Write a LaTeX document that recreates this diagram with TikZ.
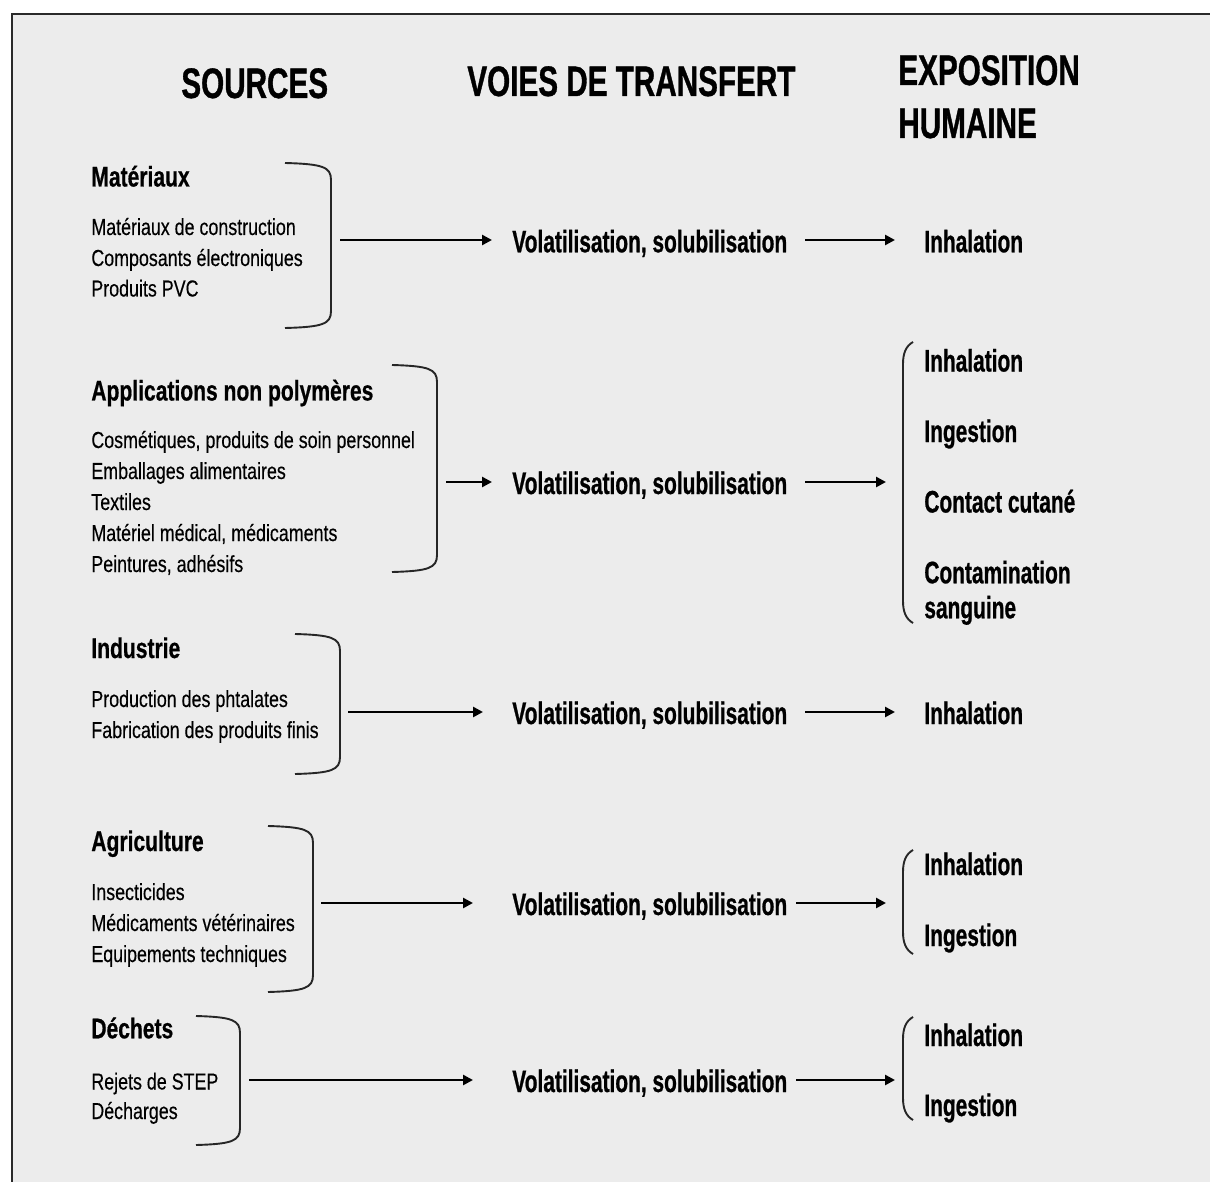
\documentclass[tikz,border=0pt]{standalone}
\usepackage{fontspec}
\setmainfont{Liberation Sans}
\newfontfamily\hdf{Liberation Sans}[FakeStretch=0.695,FakeBold=0.8]
\newfontfamily\midf{Liberation Sans}[FakeStretch=0.672,FakeBold=0.7]
\newfontfamily\secf{Liberation Sans}[FakeStretch=0.74,FakeBold=0.6]
\newfontfamily\regf{Liberation Sans}[FakeStretch=0.77,FakeBold=0.35]
\usetikzlibrary{arrows.meta}
\definecolor{bgc}{HTML}{ECECEC}
\definecolor{framec}{HTML}{2A2A2A}
\newcommand\myRB[4]{% x0, xv, top, bottom
  \draw[brk] (#1,#3) .. controls (#2-8,#3+1) and (#2,#3+4) .. (#2,#3+17) -- (#2,#4-17) .. controls (#2,#4-4) and (#2-8,#4-1) .. (#1,#4);}
\newcommand\myLB[2]{% top, bottom
  \draw[brk] (913,#1) .. controls (906,#1+4) and (903,#1+11) .. (903,#1+22) -- (903,#2-22) .. controls (903,#2-11) and (906,#2-4) .. (913,#2);}
\tikzset{
  hd/.style={anchor=base west, inner sep=0pt, font=\hdf\bfseries\fontsize{24.3}{29}\selectfont},
  mid/.style={anchor=base west, inner sep=0pt, font=\midf\bfseries\fontsize{17.7}{21}\selectfont},
  sec/.style={anchor=base west, inner sep=0pt, font=\secf\bfseries\fontsize{16.2}{19}\selectfont},
  reg/.style={anchor=base west, inner sep=0pt, font=\regf\fontsize{13.2}{16}\selectfont},
  arr/.style={line width=0.058cm, -{Triangle[length=0.2cm,width=0.2cm]}},
  brk/.style={line width=0.038cm, draw=black!85}
}
\begin{document}
\begin{tikzpicture}[x=0.02cm,y=-0.02cm]
\useasboundingbox (0,0) rectangle (1210,1182);
\fill[white] (0,0) rectangle (1210,1182);
\fill[bgc] (12,14) rectangle (1210,1182);
\draw[framec, line width=0.04cm] (12,1182) -- (12,14) -- (1210,14);

% headers
\node[hd] (hsrc) at (181,98) {SOURCES};
\node[hd] (hvoie) at (467,96) {VOIES DE TRANSFERT};
\node[hd] (hexp1) at (898,85) {EXPOSITION};
\node[hd] (hexp2) at (898,138) {HUMAINE};

% ---- section 1
\node[sec] (s1) at (91,186.5) {Matériaux};
\node[reg] (s1a) at (91,235) {Matériaux de construction};
\node[reg] (s1b) at (91,266) {Composants électroniques};
\node[reg] (s1c) at (91,296.5) {Produits PVC};
\myRB{285}{331}{163}{328}
\node[mid] (v1) at (512,252.3) {Volatilisation, solubilisation};
\node[mid] (e1) at (924,252.3) {Inhalation};
\coordinate (a1s) at (340,240); \coordinate (a1e) at (492,240);
\coordinate (b1s) at (805,240); \coordinate (b1e) at (895,240);
\draw[arr] (a1s) -- (a1e);
\draw[arr] (b1s) -- (b1e);

% ---- section 2
\node[sec] (s2) at (91,400.5) {Applications non polymères};
\node[reg] (s2a) at (91,448) {Cosmétiques, produits de soin personnel};
\node[reg] (s2b) at (91,479) {Emballages alimentaires};
\node[reg] (s2c) at (91,510) {Textiles};
\node[reg] (s2d) at (91,541) {Matériel médical, médicaments};
\node[reg] (s2e) at (91,572) {Peintures, adhésifs};
\myRB{392}{437}{365}{572}
\node[mid] (v2) at (512,494) {Volatilisation, solubilisation};
\coordinate (a2s) at (446,482); \coordinate (a2e) at (492,482);
\coordinate (b2s) at (805,482); \coordinate (b2e) at (886,482);
\draw[arr] (a2s) -- (a2e);
\draw[arr] (b2s) -- (b2e);
\myLB{342}{623}
\node[mid] (e2a) at (924,371.5) {Inhalation};
\node[mid] (e2b) at (924,442) {Ingestion};
\node[mid] (e2c) at (924,512.5) {Contact cutané};
\node[mid] (e2d) at (924,583.3) {Contamination};
\node[mid] (e2e) at (924,618.3) {sanguine};

% ---- section 3
\node[sec] (s3) at (91,658) {Industrie};
\node[reg] (s3a) at (91,707) {Production des phtalates};
\node[reg] (s3b) at (91,738) {Fabrication des produits finis};
\myRB{295}{340}{634}{774}
\node[mid] (v3) at (512,724) {Volatilisation, solubilisation};
\node[mid] (e3) at (924,724) {Inhalation};
\coordinate (a3s) at (348,712); \coordinate (a3e) at (483,712);
\coordinate (b3s) at (805,712); \coordinate (b3e) at (895,712);
\draw[arr] (a3s) -- (a3e);
\draw[arr] (b3s) -- (b3e);

% ---- section 4
\node[sec] (s4) at (91,851) {Agriculture};
\node[reg] (s4a) at (91,900) {Insecticides};
\node[reg] (s4b) at (91,931) {Médicaments vétérinaires};
\node[reg] (s4c) at (91,962) {Equipements techniques};
\myRB{268}{313}{826}{992}
\node[mid] (v4) at (512,915) {Volatilisation, solubilisation};
\coordinate (a4s) at (321,903); \coordinate (a4e) at (473,903);
\coordinate (b4s) at (796,903); \coordinate (b4e) at (886,903);
\draw[arr] (a4s) -- (a4e);
\draw[arr] (b4s) -- (b4e);
\myLB{850}{954}
\node[mid] (e4a) at (924,875) {Inhalation};
\node[mid] (e4b) at (924,946) {Ingestion};

% ---- section 5
\node[sec] (s5) at (91,1038.3) {Déchets};
\node[reg] (s5a) at (91,1089.5) {Rejets de STEP};
\node[reg] (s5b) at (91,1119) {Décharges};
\myRB{196}{240}{1016}{1145}
\node[mid] (v5) at (512,1092) {Volatilisation, solubilisation};
\coordinate (a5s) at (249,1080); \coordinate (a5e) at (473,1080);
\coordinate (b5s) at (796,1080); \coordinate (b5e) at (895,1080);
\draw[arr] (a5s) -- (a5e);
\draw[arr] (b5s) -- (b5e);
\myLB{1017}{1120}
\node[mid] (e5a) at (924,1046) {Inhalation};
\node[mid] (e5b) at (924,1116) {Ingestion};
\end{tikzpicture}
\end{document}
